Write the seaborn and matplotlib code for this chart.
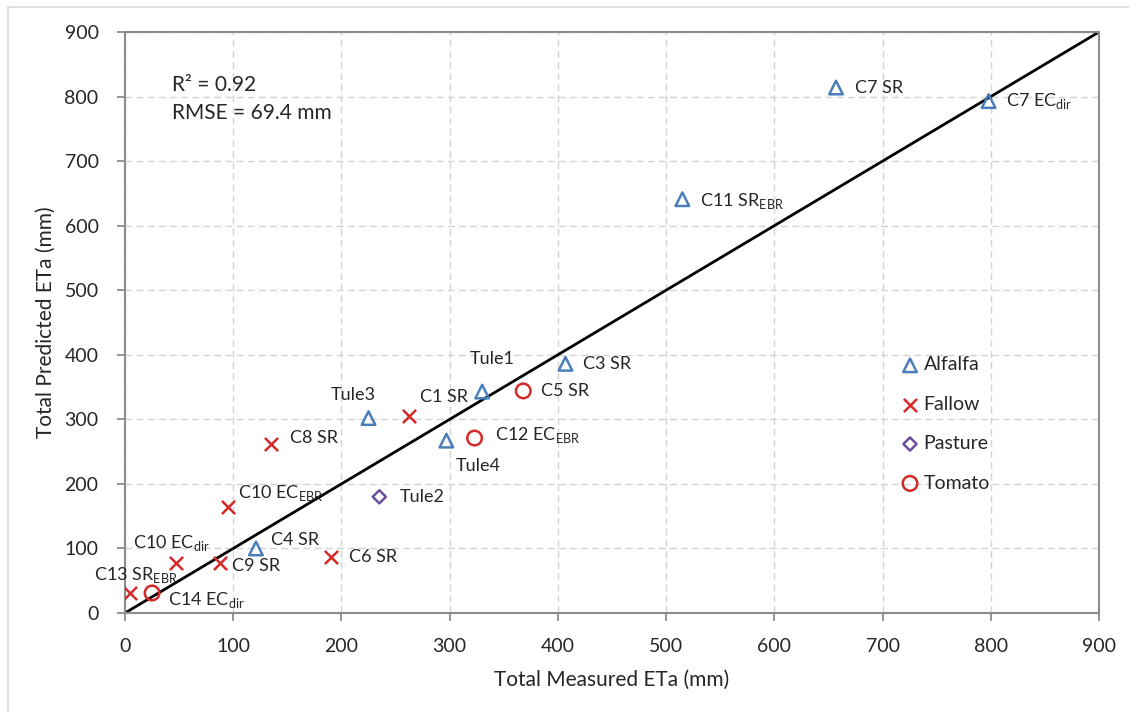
import matplotlib
matplotlib.use("Agg")
import matplotlib.pyplot as plt
from matplotlib.patches import Rectangle
import seaborn as sns
import pandas as pd

# Site / method labels and crop type for each point
labels = [
    "C7 SR", r"C7 EC$_\mathregular{dir}$", r"C11 SR$_\mathregular{EBR}$", "C3 SR",
    "Tule1", "Tule3", "Tule4", "C4 SR",
    "C1 SR", "C8 SR", r"C10 EC$_\mathregular{EBR}$", r"C10 EC$_\mathregular{dir}$",
    "C9 SR", "C6 SR", r"C13 SR$_\mathregular{EBR}$",
    "Tule2",
    "C5 SR", r"C12 EC$_\mathregular{EBR}$", r"C14 EC$_\mathregular{dir}$",
]
crops = (["Alfalfa"] * 8 + ["Fallow"] * 7 + ["Pasture"] + ["Tomato"] * 3)

# Total measured and predicted ETa (mm)
measured = [657, 798, 515, 407, 330, 225, 297, 121,
            262, 135, 95, 47, 88, 190, 5,
            235,
            368, 323, 25]
predicted = [814, 793, 641, 386, 343, 302, 267, 100,
             305, 262, 164, 78, 78, 86, 31,
             180,
             344, 271, 31]

crop_order = ["Alfalfa", "Fallow", "Pasture", "Tomato"]

# Text offsets (pixels) of each label relative to its marker
label_offsets = {
    "C7 SR": (19, 0, "left"),
    r"C7 EC$_\mathregular{dir}$": (17, 0, "left"),
    r"C11 SR$_\mathregular{EBR}$": (18, -2, "left"),
    "C3 SR": (18, 0, "left"),
    "Tule1": (10, 33, "center"),
    "Tule3": (-15, 23, "center"),
    "Tule4": (32, -25, "center"),
    "C4 SR": (15, 8, "left"),
    "C1 SR": (11, 19, "left"),
    "C8 SR": (19, 6, "left"),
    r"C10 EC$_\mathregular{EBR}$": (10, 14, "left"),
    r"C10 EC$_\mathregular{dir}$": (-5, 20, "center"),
    "C9 SR": (12, -3, "left"),
    "C6 SR": (18, 0, "left"),
    r"C13 SR$_\mathregular{EBR}$": (-36, 18, "left"),
    "Tule2": (20, 0, "left"),
    "C5 SR": (18, 0, "left"),
    r"C12 EC$_\mathregular{EBR}$": (20, 3, "left"),
    r"C14 EC$_\mathregular{dir}$": (16, -7, "left"),
}

df = pd.DataFrame({"label": labels, "crop": crops,
                   "measured": measured, "predicted": predicted})

sns.set_theme(style="white")
plt.rcParams["font.family"] = ["Lato", "DejaVu Sans"]
plt.rcParams["mathtext.fontset"] = "custom"
plt.rcParams["mathtext.rm"] = "Lato"

styles = {
    "Alfalfa": dict(marker="^", color="#4a7ebb", size=95, open=True),
    "Fallow": dict(marker="x", color="#d42a2a", size=90, open=False),
    "Pasture": dict(marker="D", color="#6a4f98", size=45, open=True),
    "Tomato": dict(marker="o", color="#d42a2a", size=110, open=True),
}

fig = plt.figure(figsize=(11.29, 7.13), dpi=100)
ax = fig.add_axes([125 / 1129, 1 - 613 / 713, 974 / 1129, 581 / 713])

# 1:1 line
ax.plot([0, 900], [0, 900], color="black", lw=2, zorder=2)

for crop in crop_order:
    st = styles[crop]
    sub = df[df["crop"] == crop]
    if st["open"]:
        sns.scatterplot(data=sub, x="measured", y="predicted", ax=ax,
                        marker=st["marker"], s=st["size"], facecolor="none",
                        edgecolor=st["color"], linewidth=1.8, label=crop,
                        zorder=3)
    else:
        sns.scatterplot(data=sub, x="measured", y="predicted", ax=ax,
                        marker=st["marker"], s=st["size"], color=st["color"],
                        linewidth=1.8, label=crop, zorder=3)

for _, row in df.iterrows():
    dx, dy, ha = label_offsets[row["label"]]
    ax.annotate(row["label"], (row["measured"], row["predicted"]),
                xytext=(dx, dy), textcoords="offset pixels",
                ha=ha, va="center", fontsize=13, color="#262626")

ax.set_xlim(0, 900)
ax.set_ylim(0, 900)
ax.set_xticks(range(0, 901, 100))
ax.set_yticks(range(0, 901, 100))
ax.grid(True, color="#d3d3d3", linestyle=(0, (5, 3)), linewidth=1)
ax.set_axisbelow(True)
for sp in ax.spines.values():
    sp.set_color("#8c8c8c")
    sp.set_linewidth(1.5)
    sp.set_visible(True)
ax.tick_params(axis="both", which="both", direction="out", length=6,
               width=1.3, color="#8c8c8c", labelsize=14, labelcolor="#262626",
               bottom=True, left=True)
ax.tick_params(axis="x", pad=12)
ax.tick_params(axis="y", pad=13)
ax.set_xlabel("Total Measured ETa (mm)", fontsize=15, color="#262626", labelpad=11)
ax.set_ylabel("Total Predicted ETa (mm)", fontsize=15, color="#262626", labelpad=6)

ax.text(0.048, 0.908, "R\u00b2 = 0.92", transform=ax.transAxes,
        fontsize=15, color="#262626", va="center")
ax.text(0.048, 0.860, "RMSE = 69.4 mm", transform=ax.transAxes,
        fontsize=15, color="#262626", va="center")

ax.legend(loc="upper left", bbox_to_anchor=(0.785, 0.455), frameon=False,
          handletextpad=0.05, labelspacing=1.15, fontsize=14,
          borderaxespad=0, handlelength=1.3)

fig.patches.append(Rectangle((8 / 1129, -0.1), 1.2, 1.1 - 7 / 713,
                             transform=fig.transFigure, fill=False,
                             edgecolor="#dcdcdc", linewidth=1.2))

fig.savefig("out.png", dpi=100)
